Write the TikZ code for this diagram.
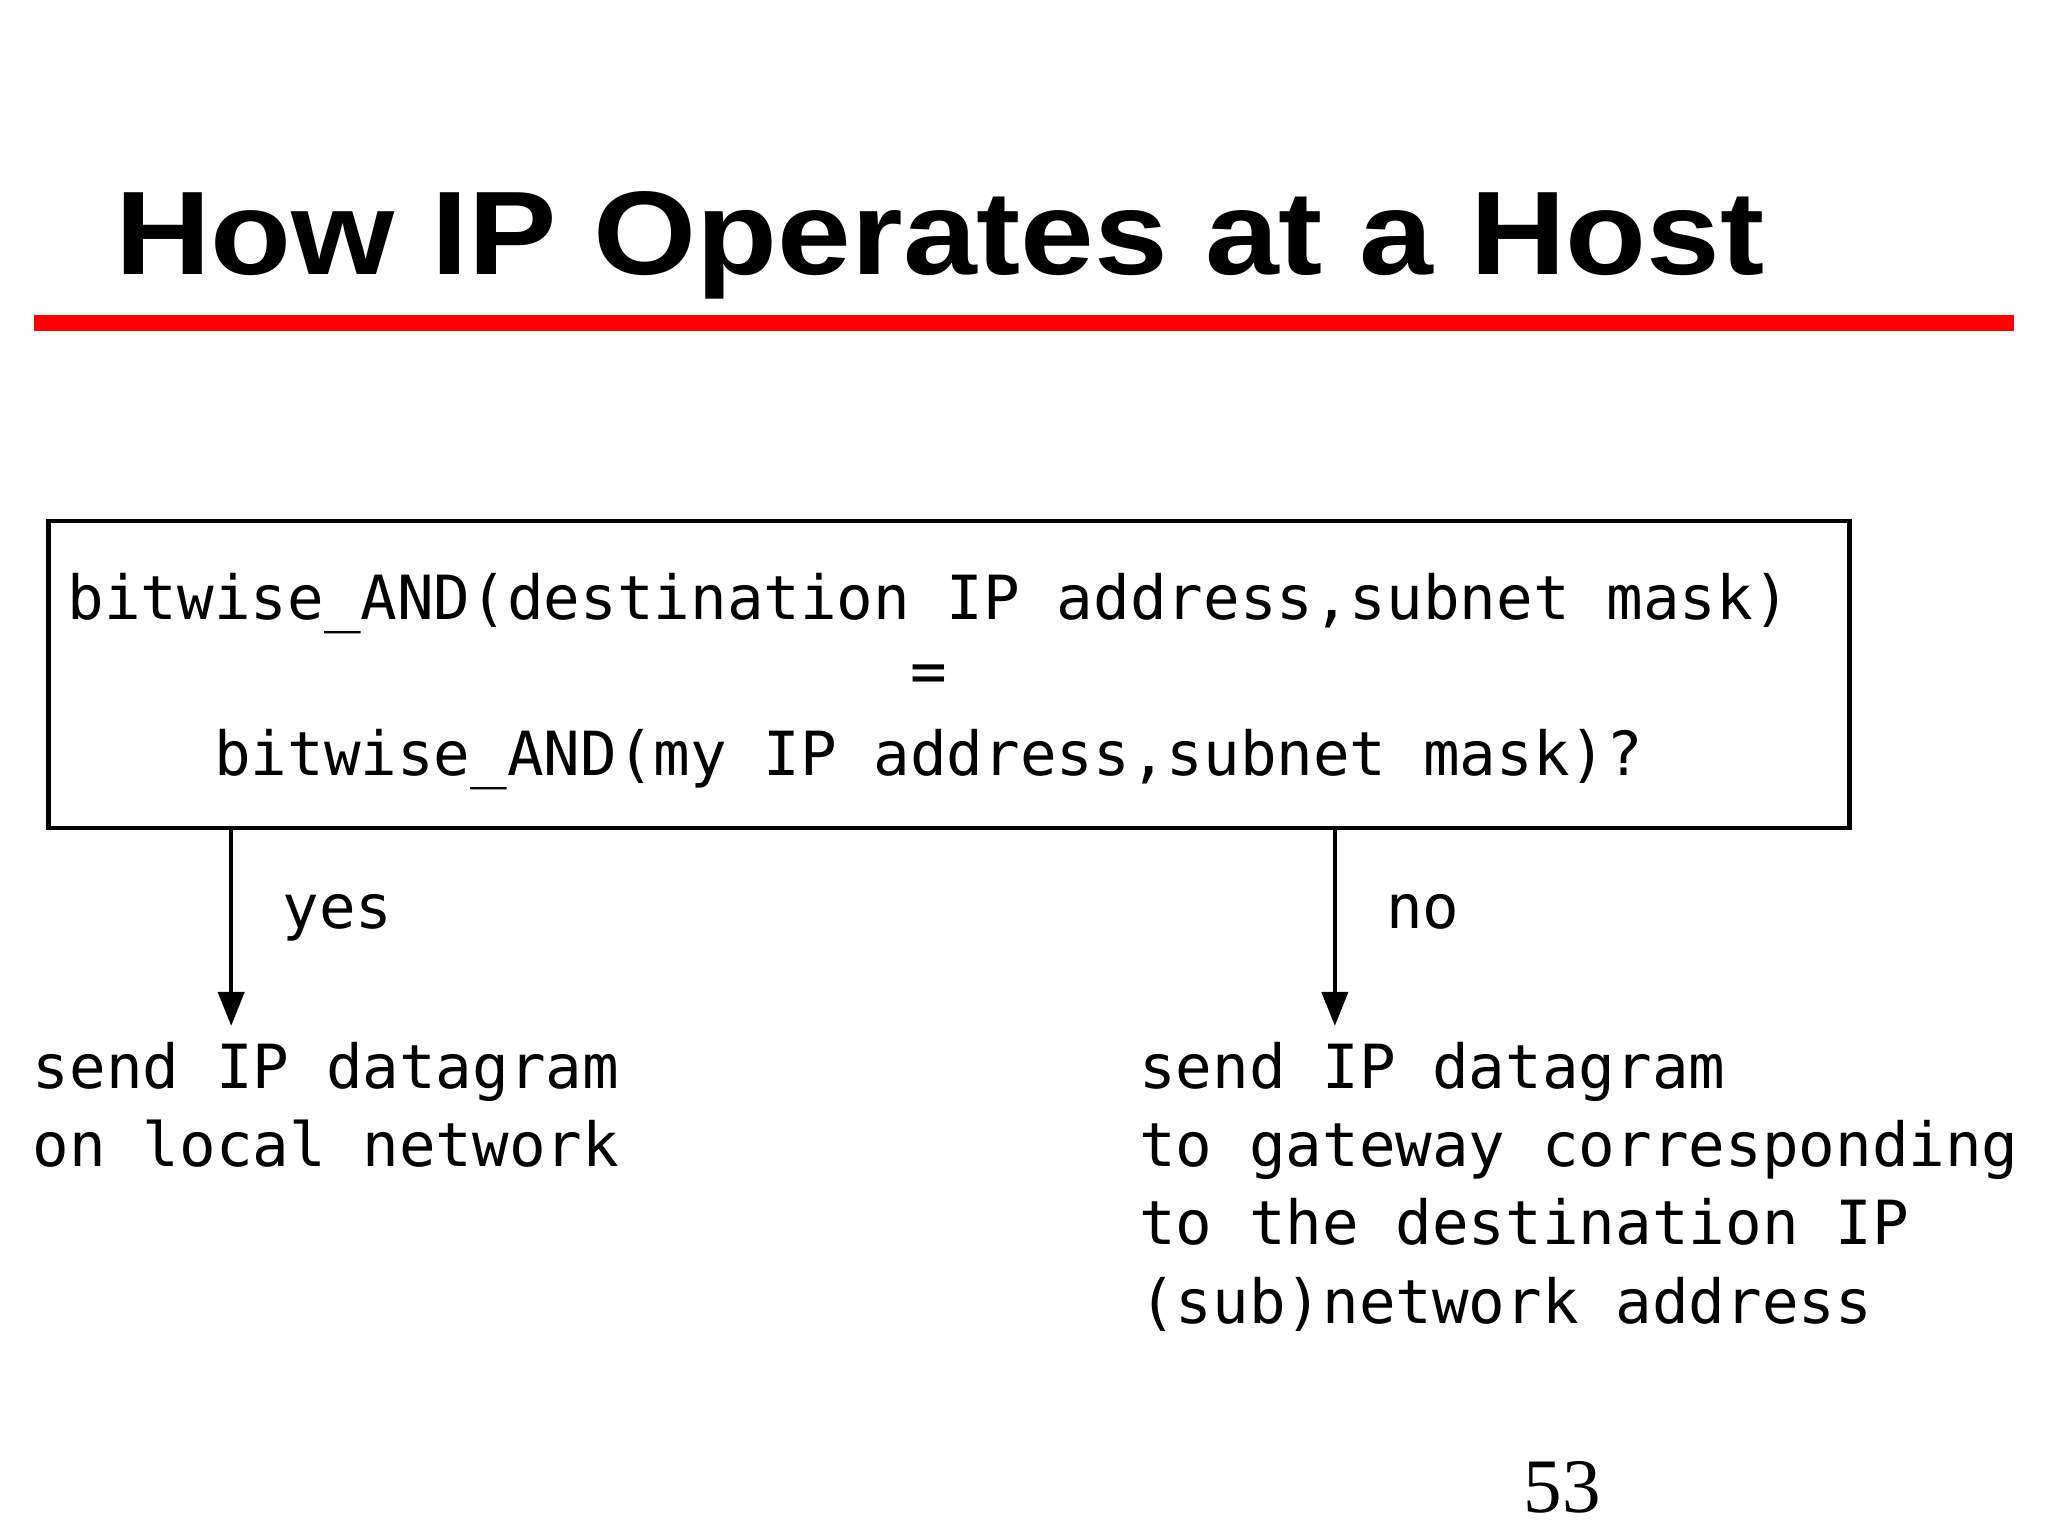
\documentclass[tikz,border=0pt]{standalone}
\usepackage{fontspec}
\usetikzlibrary{arrows.meta}
\setmainfont{Liberation Sans}
\newfontfamily\diafont{DejaVu Sans Mono}
\newfontfamily\pagefont{Liberation Serif}

\begin{document}
\begin{tikzpicture}[x=1pt,y=-1pt,
	txt/.style={font=\diafont\fontsize{46.6}{60}\selectfont,inner sep=0pt},
	branch/.style={-{Triangle[width=20pt,length=26pt]},line width=3pt,shorten >=12pt}]

	\useasboundingbox[fill=white] (0,0) rectangle (1568,1176);

	\node[anchor=base west,inner sep=0pt,xscale=1.115,font=\bfseries\fontsize{91}{100}\selectfont] (title) at (88,210) {How IP Operates at a Host};
	\draw[red,line width=12pt] (26,247.5) -- (1542,247.5);

	\node[draw,line width=3.5pt,minimum width=1379pt,minimum height=235pt,inner sep=0pt] (test) at (726.5,516.5) {};
	\node[txt,anchor=base] (lhs) at (711,474) {bitwise\_AND(destination IP address,subnet mask)};
	\node[txt,anchor=base] (eq) at (711,530) {=};
	\node[txt,anchor=base] (rhs) at (711,594) {bitwise\_AND(my IP address,subnet mask)?};

	% base of a multi-line node is its last line
	\node[txt,anchor=base west,align=left] (local) at (25,893) {send IP datagram\\on local network};
	\node[txt,anchor=base west,align=left] (gateway) at (872,1013) {send IP datagram\\to gateway corresponding\\to the destination IP\\(sub)network address};

	\foreach \x/\lab/\dst in {177/yes/local,1022/no/gateway} {
		\coordinate (\lab) at (\x,700);
		\draw[branch] (test.south -| \lab) -- (\dst.north -| \lab);
		\node[txt,anchor=base west] (\lab-text) at (\x+39,711) {\lab};
	}

	\node[anchor=base,inner sep=0pt,font=\pagefont\fontsize{59}{60}\selectfont] (page) at (1196,1158) {53};
\end{tikzpicture}
\end{document}
